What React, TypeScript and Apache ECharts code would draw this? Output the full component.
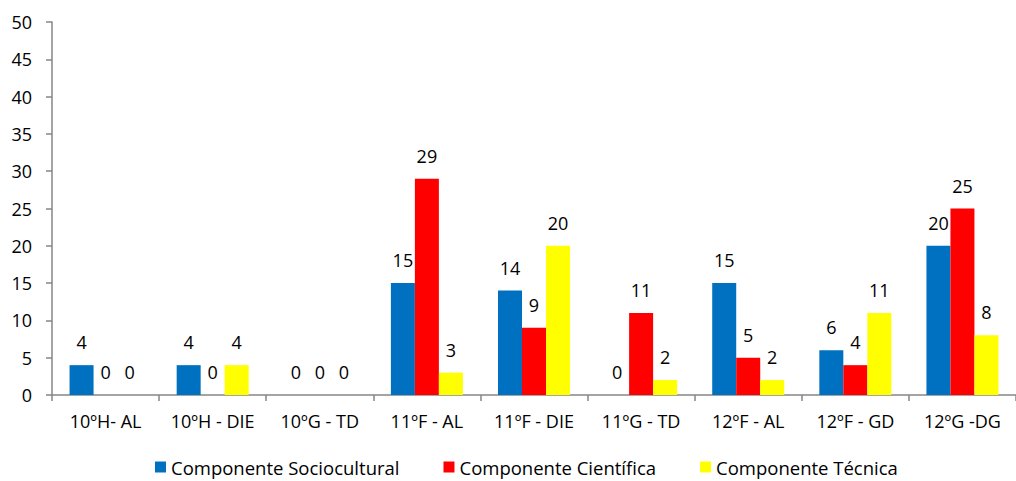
import React, { useEffect, useRef } from "react";
import * as echarts from "echarts";

const categories = ["10ºH- AL", "10ºH - DIE", "10ºG - TD", "11ºF - AL", "11ºF - DIE", "11ºG - TD", "12ºF - AL", "12ºF - GD", "12ºG -DG"];
const sociocultural = [4, 4, 0, 15, 14, 0, 15, 6, 20];
const cientifica = [0, 0, 0, 29, 9, 11, 5, 4, 25];
const tecnica = [0, 4, 0, 3, 20, 2, 2, 11, 8];
const seriesNames = ["Componente Sociocultural", "Componente Científica", "Componente Técnica"];
const colors = ["#0070C0", "#FF0000", "#FFFF00"];

const FONT = "Open Sans";

export default function App() {
  const ref = useRef<HTMLDivElement>(null);
  useEffect(() => {
    document.body.style.margin = "0";
    const chart = echarts.init(ref.current!, undefined, { renderer: "svg" });
    const datasets = [sociocultural, cientifica, tecnica];
    chart.setOption({
      animation: false,
      textStyle: { fontFamily: FONT },
      grid: { left: 52, right: -7, top: 22, bottom: 86, containLabel: false },
      legend: {
        top: 457,
        left: 150,
        padding: [0, 5, 0, 5],
        icon: "rect",
        itemWidth: 11,
        itemHeight: 11,
        itemGap: 44,
        textStyle: { fontSize: 18.5, lineHeight: 20, color: "#000", fontFamily: FONT },
        data: seriesNames,
      },
      xAxis: {
        type: "category",
        data: categories,
        axisLine: { lineStyle: { color: "#868686", width: 1.5 } },
        axisTick: { show: true, length: 6, alignWithLabel: false, lineStyle: { color: "#868686", width: 1.5 } },
        axisLabel: { color: "#000", fontSize: 18, margin: 17, fontFamily: FONT, interval: 0 },
      },
      yAxis: {
        type: "value",
        min: 0,
        max: 50,
        interval: 5,
        splitLine: { show: false },
        axisLine: { show: true, lineStyle: { color: "#868686", width: 1.5 } },
        axisTick: { show: true, length: 6, lineStyle: { color: "#868686", width: 1.5 } },
        axisLabel: { color: "#000", fontSize: 18, margin: 20, fontFamily: FONT },
      },
      series: datasets.map((d, i) => ({
        name: seriesNames[i],
        type: "bar",
        data: d,
        barWidth: 24,
        barGap: "0%",
        itemStyle: { color: colors[i] },
        label: {
          show: true,
          position: "top",
          distance: 14,
          color: "#000",
          fontSize: 18,
          fontFamily: FONT,
        },
      })),
    });
    return () => chart.dispose();
  }, []);
  return <div ref={ref} style={{ width: 1016, height: 481 }} />;
}
